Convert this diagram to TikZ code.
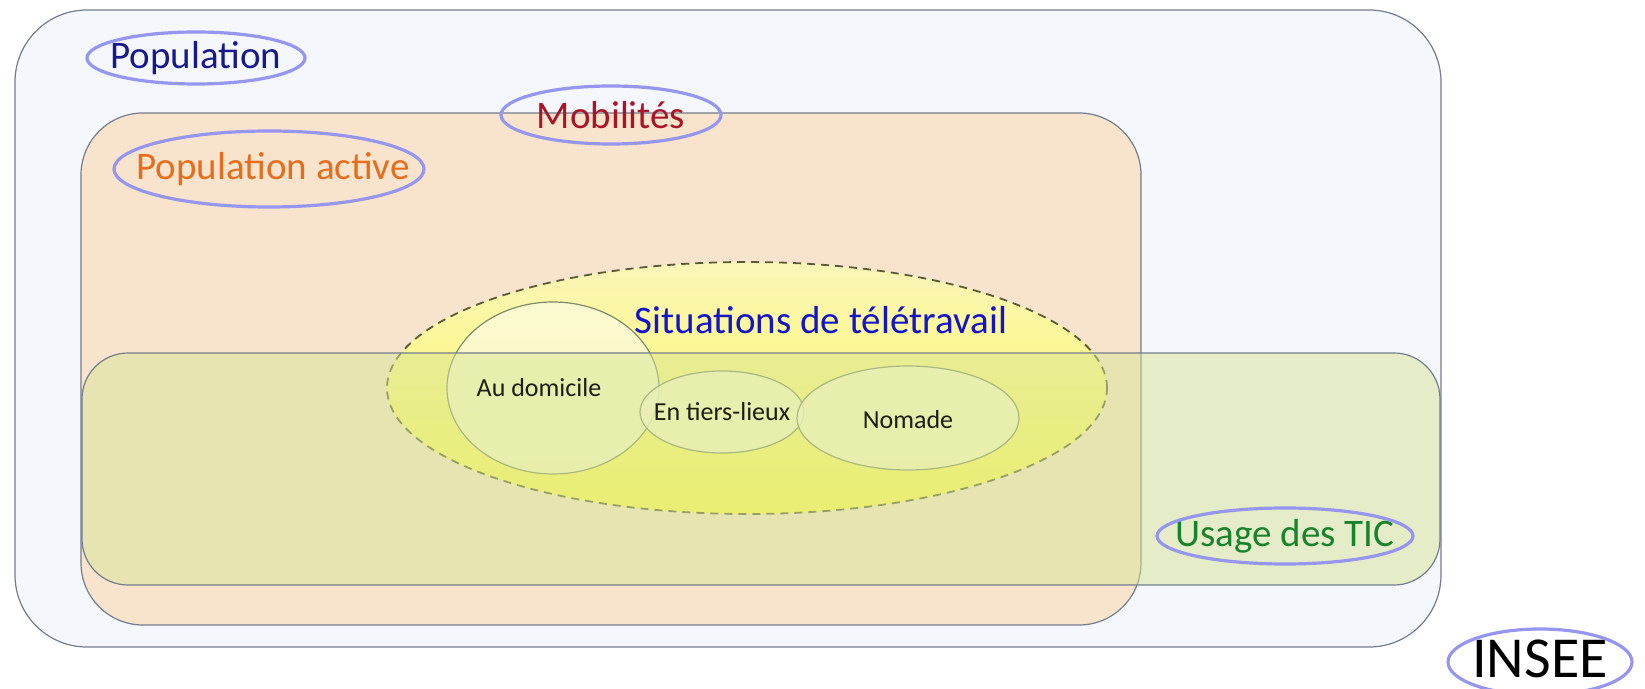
\documentclass[tikz,border=0pt]{standalone}
\usepackage{fontspec}
\setmainfont{Carlito}
\usetikzlibrary{shapes.geometric}
\definecolor{popfill}{RGB}{244,248,253}
\definecolor{actfill}{RGB}{248,228,205}
\definecolor{ticfill}{RGB}{214,228,148}
\definecolor{edge}{RGB}{115,125,140}
\definecolor{lav}{RGB}{150,150,238}
\definecolor{yeltop}{RGB}{250,246,185}
\definecolor{yelbot}{RGB}{255,250,80}
\definecolor{circfill}{RGB}{251,250,218}
\definecolor{circedge}{RGB}{125,140,105}
\definecolor{dashc}{RGB}{90,90,55}
\definecolor{cpop}{RGB}{25,25,140}
\definecolor{cmob}{RGB}{170,20,40}
\definecolor{cact}{RGB}{228,110,30}
\definecolor{csit}{RGB}{20,20,200}
\definecolor{ctic}{RGB}{25,130,45}
\definecolor{cin}{RGB}{30,30,20}
\tikzset{
  setbox/.style={draw=edge, line width=0.6pt},
  tagtxt/.style={inner sep=0pt, font=\fontsize{19.5}{22}\selectfont},
  tagring/.style={draw=lav, line width=1.6pt},
  sub/.style={ellipse, draw=circedge, line width=0.6pt, fill=circfill, fill opacity=0.8, inner sep=0pt},
  subtxt/.style={text=cin, font=\fontsize{13}{15}\selectfont}
}
\begin{document}
\begin{tikzpicture}[x=0.5pt,y=-0.5pt]
\useasboundingbox (0,0) rectangle (1645,689);
% Population
\draw[setbox, fill=popfill, rounded corners=36pt] (15,10) rectangle (1441,647);
% Population active
\draw[setbox, fill=actfill, rounded corners=31pt] (81,113) rectangle (1141,625);
% Situations de teletravail
\node[ellipse, minimum width=360pt, minimum height=126pt, inner sep=0pt,
  top color=yeltop, bottom color=yelbot, shading angle=0] (sit) at (747,388) {};
\draw[dashc, line width=0.9pt, dash pattern=on 4pt off 3pt] (sit.center) ellipse [x radius=180pt, y radius=63pt];
% sub circles
\node[sub, minimum width=106pt, minimum height=86pt] (dom) at (553,388) {};
\node[sub, minimum width=82pt, minimum height=41pt] (tiers) at (722,412) {};
\node[sub, minimum width=111pt, minimum height=52pt] (nom) at (908,418) {};
% Usage des TIC box
\draw[setbox, fill=ticfill, fill opacity=0.5, rounded corners=23pt] (82,353) rectangle (1440,585);
% texts
\node[subtxt] (tdom) at (539,388) {Au domicile};
\node[subtxt] (ttiers) at (tiers.center) {En tiers-lieux};
\node[subtxt] (tnom) at (908,420) {Nomade};
\node[text=csit, font=\fontsize{19.5}{22}\selectfont] (tsit) at (821,320) {Situations de télétravail};
% tags
\node[tagtxt, text=cpop] (lpop) at (196,58) {Population};
\draw[tagring] (196,58) ellipse [x radius=54.5pt, y radius=13pt];
\node[tagtxt, text=cmob] (lmob) at (611,115) {Mobilités};
\draw[tagring] (611,115) ellipse [x radius=55pt, y radius=14.5pt];
\node[tagtxt, text=cact] (lact) at (273,169) {Population active};
\draw[tagring] (269,169) ellipse [x radius=77.5pt, y radius=19pt];
\node[tagtxt, text=ctic] (ltic) at (1285,536) {Usage des TIC};
\draw[tagring] (1285,536) ellipse [x radius=64pt, y radius=14pt];
\node[tagtxt, text=black, font=\fontsize{29}{33}\selectfont] (linsee) at (1540,659) {INSEE};
\draw[tagring] (1540,662) ellipse [x radius=46pt, y radius=16.5pt];
\end{tikzpicture}
\end{document}
